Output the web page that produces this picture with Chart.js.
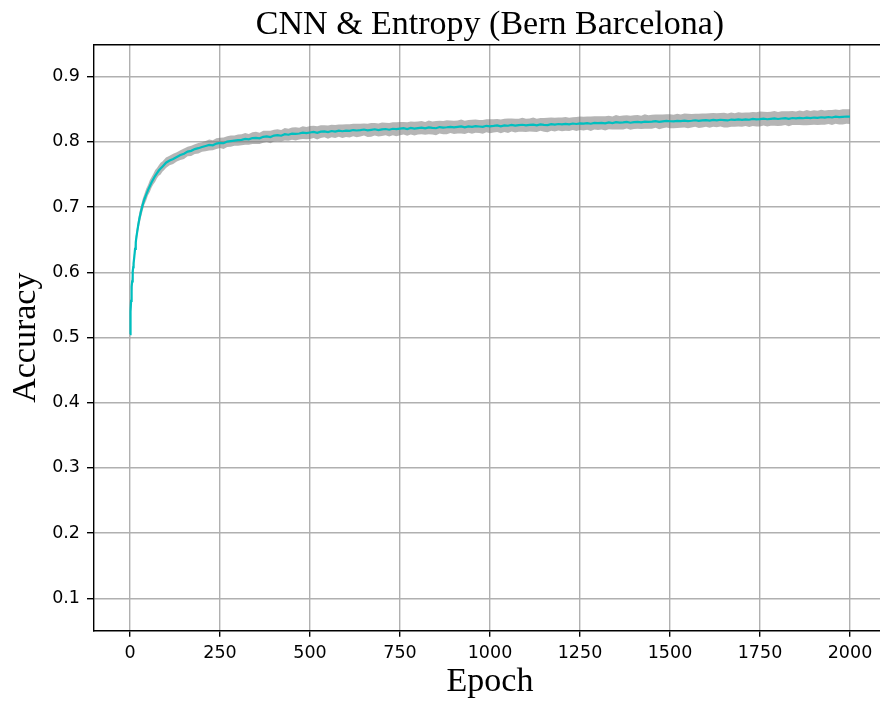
<!DOCTYPE html>
<html>
<head>
<meta charset="utf-8">
<script src="https://cdn.jsdelivr.net/npm/chart.js@4.4.1/dist/chart.umd.min.js"></script>
<style>
  html, body { margin: 0; padding: 0; background: #fff; overflow: hidden; }
  #wrap { width: 880px; height: 705px; overflow: hidden; }
</style>
</head>
<body>
<div id="wrap"><canvas id="accChart" width="886" height="705"></canvas></div>
<script>
const chartTitle = "CNN & Entropy (Bern Barcelona)";
const xLabel = "Epoch";
const yLabel = "Accuracy";

const xTicks = [0, 250, 500, 750, 1000, 1250, 1500, 1750, 2000];
const yTicks = [0.1, 0.2, 0.3, 0.4, 0.5, 0.6, 0.7, 0.8, 0.9];

const epochs = [
  0, 1, 2, 3, 4, 5, 6, 7, 8, 9, 10, 12, 14, 16, 18, 20, 23, 26, 30, 35, 40, 45, 50,
  55, 60, 65, 70, 75, 80, 85, 90, 95, 100,
  110, 120, 130, 140, 150, 160, 170, 180, 190, 200,
  210, 220, 230, 240, 250, 260, 270, 280, 290, 300,
  310, 320, 330, 340, 350, 360, 370, 380, 390, 400,
  410, 420, 430, 440, 450, 460, 470, 480, 490, 500,
  510, 520, 530, 540, 550, 560, 570, 580, 590, 600,
  610, 620, 630, 640, 650, 660, 670, 680, 690, 700,
  710, 720, 730, 740, 750, 760, 770, 780, 790, 800,
  810, 820, 830, 840, 850, 860, 870, 880, 890, 900,
  910, 920, 930, 940, 950, 960, 970, 980, 990, 1000,
  1010, 1020, 1030, 1040, 1050, 1060, 1070, 1080, 1090, 1100,
  1110, 1120, 1130, 1140, 1150, 1160, 1170, 1180, 1190, 1200,
  1210, 1220, 1230, 1240, 1250, 1260, 1270, 1280, 1290, 1300,
  1310, 1320, 1330, 1340, 1350, 1360, 1370, 1380, 1390, 1400,
  1410, 1420, 1430, 1440, 1450, 1460, 1470, 1480, 1490, 1500,
  1510, 1520, 1530, 1540, 1550, 1560, 1570, 1580, 1590, 1600,
  1610, 1620, 1630, 1640, 1650, 1660, 1670, 1680, 1690, 1700,
  1710, 1720, 1730, 1740, 1750, 1760, 1770, 1780, 1790, 1800,
  1810, 1820, 1830, 1840, 1850, 1860, 1870, 1880, 1890, 1900,
  1910, 1920, 1930, 1940, 1950, 1960, 1970, 1980, 1990, 2000
];

// mean accuracy
const meanAcc = [
  0.505, 0.522, 0.540, 0.556, 0.568, 0.578, 0.586, 0.594, 0.601, 0.608, 0.614, 0.624, 0.636,
  0.646, 0.655, 0.662, 0.673, 0.682, 0.692, 0.703, 0.712, 0.719, 0.726, 0.732, 0.738, 0.743,
  0.748, 0.752, 0.756, 0.759, 0.762, 0.765, 0.768,
  0.7714, 0.7738, 0.7769, 0.7797, 0.7818, 0.7851, 0.7862, 0.7889, 0.7903, 0.7921,
  0.7936, 0.7952, 0.7947, 0.7974, 0.7985, 0.7979, 0.8004, 0.8011, 0.8019, 0.8027,
  0.8031, 0.8046, 0.8039, 0.8058, 0.8061, 0.8054, 0.8077, 0.8083, 0.8074, 0.8096,
  0.8102, 0.8094, 0.8117, 0.8109, 0.8126, 0.8121, 0.8128, 0.8141, 0.8133, 0.8144,
  0.8152, 0.8139, 0.8157, 0.8161, 0.8149, 0.8166, 0.8158, 0.8172, 0.8163, 0.8171,
  0.8168, 0.8181, 0.8174, 0.8179, 0.8189, 0.8176, 0.8184, 0.8193, 0.8181, 0.8192,
  0.8197, 0.8186, 0.8201, 0.8194, 0.8203, 0.8209, 0.8197, 0.8213, 0.8204, 0.8211,
  0.8218, 0.8206, 0.8221, 0.8214, 0.8209, 0.8227, 0.8219, 0.8224, 0.8231, 0.8222,
  0.8229, 0.8236, 0.8223, 0.8238, 0.8231, 0.8242, 0.8235, 0.8229, 0.8246, 0.8239,
  0.8244, 0.8251, 0.8238, 0.8253, 0.8247, 0.8259, 0.8249, 0.8256, 0.8262, 0.8253,
  0.8259, 0.8264, 0.8254, 0.8268, 0.8261, 0.8257, 0.8272, 0.8265, 0.8274, 0.8268,
  0.8276, 0.8269, 0.8281, 0.8274, 0.8284, 0.8279, 0.8287, 0.8278, 0.8291, 0.8286,
  0.8292, 0.8284, 0.8297, 0.8289, 0.8301, 0.8294, 0.8298, 0.8306, 0.8293, 0.8303,
  0.8307, 0.8299, 0.8311, 0.8305, 0.8309, 0.8318, 0.8308, 0.8314, 0.8321, 0.8316,
  0.8313, 0.8322, 0.8317, 0.8326, 0.8319, 0.8324, 0.8331, 0.8322, 0.8328, 0.8333,
  0.8327, 0.8336, 0.8331, 0.8339, 0.8334, 0.8328, 0.8342, 0.8336, 0.8344, 0.8338,
  0.8346, 0.8339, 0.8351, 0.8344, 0.8349, 0.8356, 0.8347, 0.8353, 0.8359, 0.8351,
  0.8358, 0.8363, 0.8354, 0.8366, 0.8361, 0.8369, 0.8362, 0.8371, 0.8365, 0.8373,
  0.8368, 0.8377, 0.8372, 0.8381, 0.8374, 0.8386, 0.8378, 0.8383, 0.8389, 0.8386
];

// spread (std) around the mean
const stdAcc = [
  0.008, 0.010, 0.011, 0.010, 0.011, 0.010, 0.011, 0.010, 0.010, 0.011, 0.010, 0.009, 0.010,
  0.009, 0.010, 0.009, 0.009, 0.010, 0.009, 0.009, 0.008, 0.009, 0.008, 0.009, 0.008, 0.008,
  0.009, 0.008, 0.008, 0.009, 0.008, 0.008, 0.008,
  0.0074, 0.0079, 0.0071, 0.0076, 0.0082, 0.0073, 0.0078, 0.0075, 0.0081, 0.0074,
  0.0079, 0.0085, 0.0076, 0.0083, 0.0078, 0.0088, 0.0081, 0.0086, 0.0079, 0.0087,
  0.0084, 0.0091, 0.0082, 0.0089, 0.0094, 0.0085, 0.0092, 0.0087, 0.0096, 0.0089,
  0.0093, 0.0088, 0.0097, 0.0091, 0.0095, 0.0102, 0.0090, 0.0097, 0.0093, 0.0099,
  0.0094, 0.0101, 0.0096, 0.0092, 0.0103, 0.0097, 0.0099, 0.0094, 0.0105, 0.0098,
  0.0101, 0.0095, 0.0104, 0.0098, 0.0093, 0.0102, 0.0107, 0.0097, 0.0100, 0.0104,
  0.0096, 0.0103, 0.0099, 0.0108, 0.0101, 0.0095, 0.0104, 0.0099, 0.0106, 0.0100,
  0.0103, 0.0097, 0.0105, 0.0100, 0.0109, 0.0098, 0.0102, 0.0106, 0.0096, 0.0103,
  0.0099, 0.0106, 0.0101, 0.0097, 0.0108, 0.0102, 0.0099, 0.0105, 0.0100, 0.0107,
  0.0102, 0.0098, 0.0106, 0.0101, 0.0110, 0.0099, 0.0104, 0.0100, 0.0107, 0.0103,
  0.0100, 0.0108, 0.0102, 0.0097, 0.0105, 0.0111, 0.0101, 0.0106, 0.0099, 0.0104,
  0.0107, 0.0101, 0.0098, 0.0109, 0.0103, 0.0106, 0.0100, 0.0112, 0.0102, 0.0105,
  0.0101, 0.0108, 0.0104, 0.0099, 0.0110, 0.0103, 0.0107, 0.0101, 0.0109, 0.0104,
  0.0106, 0.0100, 0.0111, 0.0104, 0.0108, 0.0102, 0.0113, 0.0105, 0.0101, 0.0109,
  0.0104, 0.0110, 0.0102, 0.0107, 0.0112, 0.0105, 0.0101, 0.0109, 0.0106, 0.0103,
  0.0111, 0.0105, 0.0108, 0.0102, 0.0114, 0.0106, 0.0109, 0.0103, 0.0110, 0.0107,
  0.0104, 0.0112, 0.0106, 0.0109, 0.0115, 0.0105, 0.0110, 0.0107, 0.0113, 0.0108,
  0.0111, 0.0106, 0.0114, 0.0108, 0.0104, 0.0112, 0.0109, 0.0116, 0.0107, 0.0111,
  0.0108, 0.0114, 0.0110, 0.0106, 0.0115, 0.0109, 0.0112, 0.0117, 0.0110, 0.0113
];

const serif = "'Liberation Serif', 'Times New Roman', serif";
const sans = "'DejaVu Sans', sans-serif";

const toPoints = vals => epochs.map((e, i) => ({ x: e, y: vals[i] }));
const lower = meanAcc.map((m, i) => m - stdAcc[i]);
const upper = meanAcc.map((m, i) => m + stdAcc[i]);

// title centred over the axes + top spine, like matplotlib
const framePlugin = {
  id: "frame",
  afterDraw(chart) {
    const { ctx, chartArea: a } = chart;
    ctx.save();
    ctx.strokeStyle = "#000";
    ctx.lineWidth = 1.4;
    ctx.beginPath();
    ctx.moveTo(a.left, a.top);
    ctx.lineTo(a.right, a.top);
    ctx.stroke();
    ctx.fillStyle = "#000";
    ctx.font = "34px " + serif;
    ctx.textAlign = "center";
    ctx.textBaseline = "alphabetic";
    ctx.fillText(chartTitle, (a.left + a.right) / 2, 33.5);
    ctx.restore();
  }
};

new Chart(document.getElementById("accChart"), {
  type: "line",
  data: {
    datasets: [
      {
        label: "mean",
        data: toPoints(meanAcc),
        borderColor: "#00bfbf",
        borderWidth: 2.2,
        pointRadius: 0,
        tension: 0,
        fill: false,
        order: 0
      },
      {
        label: "lower",
        data: toPoints(lower),
        borderColor: "transparent",
        borderWidth: 0,
        pointRadius: 0,
        fill: false,
        order: 1
      },
      {
        label: "upper",
        data: toPoints(upper),
        borderColor: "transparent",
        borderWidth: 0,
        pointRadius: 0,
        backgroundColor: "rgba(128, 128, 128, 0.58)",
        fill: 1,
        order: 1
      }
    ]
  },
  options: {
    responsive: false,
    animation: false,
    devicePixelRatio: 1,
    layout: { padding: { top: 44.7, left: 0, right: 0, bottom: 0 } },
    plugins: {
      legend: { display: false },
      tooltip: { enabled: false },
      title: { display: false }
    },
    scales: {
      x: {
        type: "linear",
        min: -100,
        max: 2100,
        afterBuildTicks: s => { s.ticks = xTicks.map(v => ({ value: v })); },
        afterFit: s => { s.height = 74.3; },
        ticks: {
          autoSkip: false,
          maxRotation: 0,
          padding: 6,
          color: "#000",
          font: { family: sans, size: 17.5 },
          callback: v => String(v)
        },
        grid: { color: "#b0b0b0", lineWidth: 1.4, tickLength: 6, tickColor: "#000", tickWidth: 1.4 },
        border: { color: "#000", width: 1.4 },
        title: {
          display: true,
          text: xLabel,
          color: "#000",
          font: { family: serif, size: 34 },
          padding: { top: 0, bottom: 2.8 }
        }
      },
      y: {
        type: "linear",
        min: 0.0503,
        max: 0.949,
        afterBuildTicks: s => { s.ticks = yTicks.map(v => ({ value: v })); },
        afterFit: s => { s.width = 94; },
        ticks: {
          padding: 7,
          color: "#000",
          font: { family: sans, size: 17.5 },
          callback: v => v.toFixed(1)
        },
        grid: { color: "#b0b0b0", lineWidth: 1.4, tickLength: 7, tickColor: "#000", tickWidth: 1.4 },
        border: { color: "#000", width: 1.4 },
        title: {
          display: true,
          text: yLabel,
          color: "#000",
          font: { family: serif, size: 34 },
          padding: { top: 5.4, bottom: 0 }
        }
      }
    }
  },
  plugins: [framePlugin]
});
</script>
</body>
</html>
